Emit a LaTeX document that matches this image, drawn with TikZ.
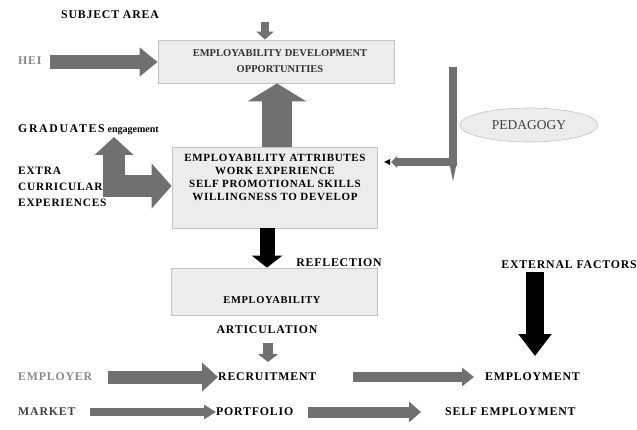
\documentclass[tikz,border=0pt]{standalone}
\usepackage{fontspec}
\setmainfont{Liberation Serif}
\newfontfamily\widelbl[LetterSpace=7]{Liberation Serif}
\newfontfamily\midlbl[LetterSpace=6]{Liberation Serif}
\newfontfamily\gradlbl[LetterSpace=14]{Liberation Serif}
\usetikzlibrary{arrows.meta,shapes.geometric}
\definecolor{arrgray}{HTML}{707070}
\definecolor{boxfill}{HTML}{ECECEC}
\definecolor{boxline}{HTML}{C4C4C4}
\definecolor{lblgray}{HTML}{8A8A8A}
\tikzset{
  box/.style={draw=boxline, fill=boxfill, line width=0.8pt, inner sep=0pt},
  lbl/.style={font=\widelbl\bfseries\fontsize{11.8}{12}\selectfont, inner sep=0pt},
  boxtxt/.style={font=\bfseries\fontsize{10.5}{16}\selectfont, align=center, inner sep=0pt},
  fat/.style={draw=arrgray, line width=#1},
}
\begin{document}
\begin{tikzpicture}[x=1pt,y=-1pt]
\useasboundingbox (0,0) rectangle (637,430);
% boxes
\node[box, minimum width=236pt, minimum height=43pt] (dev) at (276,61.5) {};
\node[boxtxt, text=black!80] at (280,61.5) {EMPLOYABILITY DEVELOPMENT\\OPPORTUNITIES};
\node[box, minimum width=205pt, minimum height=81pt] (attr) at (274.5,187.5) {};
\node[boxtxt, font=\midlbl\bfseries\fontsize{11}{13}\selectfont] at (275,177.5) {EMPLOYABILITY ATTRIBUTES\\WORK EXPERIENCE\\SELF PROMOTIONAL SKILLS\\WILLINGNESS TO DEVELOP};
\node[box, minimum width=206pt, minimum height=47pt] (emp) at (274,291.5) {};
\node[boxtxt, font=\midlbl\bfseries\fontsize{10.5}{10}\selectfont] at (272,300) {EMPLOYABILITY};
\node[ellipse, draw=boxline, fill=boxfill, line width=0.6pt, minimum width=138pt, minimum height=34pt, font=\fontsize{13.5}{14}\selectfont, text=black!75] (ped) at (529,125) {PEDAGOGY};
% labels
\node[lbl] (subj) at (110,15) {SUBJECT AREA};
\node[lbl, text=lblgray, anchor=west] (hei) at (18,61) {HEI};
\node[lbl, anchor=west, font=\gradlbl\bfseries\fontsize{11.8}{12}\selectfont] (grad) at (18,130) {GRADUATES\hspace{3pt}\normalfont\bfseries\fontsize{10}{10}\selectfont engagement};
\node[lbl, anchor=north west, align=left, font=\widelbl\bfseries\fontsize{11.3}{16}\selectfont] (extra) at (18,167) {EXTRA\\CURRICULAR\\EXPERIENCES};
\node[lbl] (refl) at (339,263) {REFLECTION};
\node[lbl] (artic) at (267,330) {ARTICULATION};
\node[lbl, anchor=east] (ext) at (637,265) {EXTERNAL FACTORS};
\node[lbl, text=lblgray, anchor=west] (employer) at (18,377) {EMPLOYER};
\node[lbl, anchor=west] (recr) at (218,377) {RECRUITMENT};
\node[lbl, anchor=west] (empl) at (485,377) {EMPLOYMENT};
\node[lbl, text=black!75, anchor=west] (market) at (18,412) {MARKET};
\node[lbl, anchor=west] (port) at (216,412) {PORTFOLIO};
\node[lbl, anchor=west] (self) at (445,412) {SELF EMPLOYMENT};
% connector endpoints
\coordinate (saTop) at (265,22);
\coordinate (heiEnd) at (50,62);
\coordinate (lcorner) at (114,186);
\coordinate (pedTop) at (453,67);
\coordinate (pedCorner) at (453,162);
\coordinate (pedBot) at (453,181);
\coordinate (pedTip) at (384,162);
\coordinate (extTop) at (535,272);
\coordinate (extTip) at (535,356);
% arrows
\draw[fat=8pt, -{Triangle[width=17pt,length=8pt]}] (saTop) -- (dev.north -| saTop);
\draw[fat=14pt, -{Triangle[width=28pt,length=18pt]}] (heiEnd) -- (dev.west |- heiEnd);
\draw[fat=30pt, -{Triangle[width=58pt,length=18pt]}] (attr.north -| 277,0) -- (dev.south -| 277,0);
% graduates elbow arrow
\draw[fat=22pt, {Triangle[width=38pt,length=18pt]}-{Triangle[width=44pt,length=20pt]}, line join=miter]
  (114,137) -- (lcorner) -- (attr.west |- lcorner);
% pedagogy elbow
\draw[fat=8pt, line join=miter] (pedTop) -- (pedCorner) -- (397,162);
\fill[arrgray] (449,162) -- (457,162) -- (pedBot) -- cycle;
\fill[arrgray] (397,156) -- (397,168) -- (391,162) -- cycle;
\fill[black] (pedTip) -- (390,159) -- (390,165) -- cycle;
% attr -> employability
\draw[draw=black, line width=15pt, -{Triangle[width=30pt,length=12pt]}] (attr.south -| 267,0) -- (emp.north -| 267,0);
% employability -> recruitment
\draw[fat=10pt, -{Triangle[width=20pt,length=8pt]}] (268,343) -- (268,362);
% external
\draw[draw=black, line width=18pt, -{Triangle[width=32pt,length=22pt]}] (extTop) -- (extTip);
% bottom rows
\draw[fat=13pt, -{Triangle[width=28pt,length=16pt]}] (108,377) -- (recr.west);
\draw[fat=10pt, -{Triangle[width=18pt,length=12pt]}] (353,377) -- (474,377);
\draw[fat=8pt, -{Triangle[width=14pt,length=12pt]}] (90,412) -- (port.west);
\draw[fat=11pt, -{Triangle[width=20pt,length=12pt]}] (308,412) -- (421,412);
\end{tikzpicture}
\end{document}
